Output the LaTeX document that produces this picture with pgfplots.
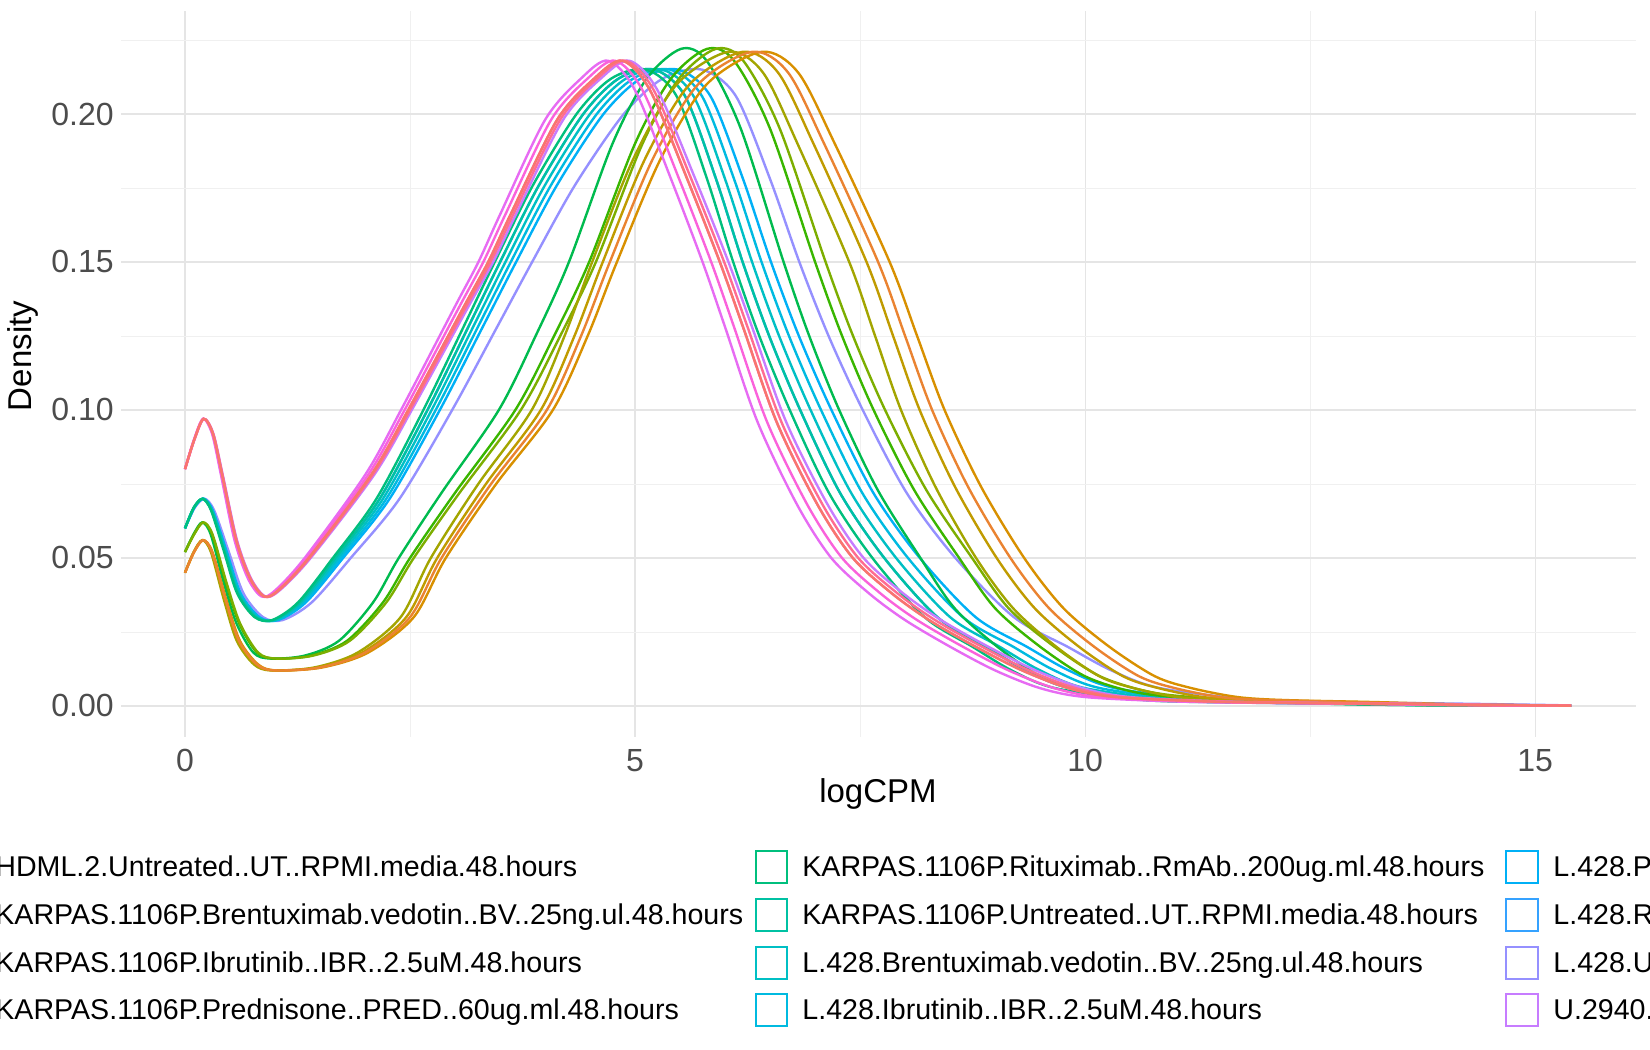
\documentclass[border=0pt]{standalone}
\usepackage{pgfplots}
\pgfplotsset{compat=1.18}
\usepackage{pgfplotstable}
\usepackage{fontspec}
\setmainfont{Liberation Sans}
\pgfplotstableread{
x y
0 0.080
0.1 0.090
0.2 0.097
0.3 0.092
0.4 0.078
0.55 0.056
0.7 0.043
0.85 0.037
1.0 0.039
1.33 0.050
2.0 0.078
2.4 0.100
3.0 0.135
3.26 0.150
3.5 0.166
4.0 0.198
4.4 0.212
4.7 0.218
5.0 0.208
5.4 0.178
5.75 0.150
6.0 0.128
6.36 0.096
6.8 0.068
7.18 0.050
7.6 0.038
8.0 0.029
8.5 0.020
9.0 0.012
9.5 0.006
10 0.003
11 0.0015
12 0.001
13 0.0007
14 0.0003
15.4 0.0001
}\shapeA
\pgfplotstableread{
x y
0 0.060
0.1 0.067
0.2 0.070
0.3 0.066
0.45 0.052
0.6 0.038
0.8 0.030
1.0 0.029
1.3 0.035
1.7 0.050
2.2 0.070
2.74 0.100
3.2 0.128
3.56 0.150
4.0 0.176
4.5 0.200
4.9 0.212
5.3 0.215
5.65 0.206
6.0 0.178
6.3 0.150
6.6 0.125
6.95 0.100
7.4 0.072
7.9 0.050
8.5 0.030
9.05 0.020
9.5 0.012
10 0.006
11 0.002
12 0.0012
13 0.0008
14 0.0003
15.4 0.0001
}\shapeB
\pgfplotstableread{
x y
0 0.052
0.1 0.058
0.2 0.062
0.3 0.058
0.45 0.042
0.6 0.028
0.8 0.018
1.0 0.016
1.4 0.017
1.8 0.022
2.2 0.035
2.5 0.050
3.0 0.072
3.67 0.100
4.1 0.125
4.49 0.150
5.0 0.190
5.4 0.212
5.8 0.222
6.1 0.218
6.5 0.195
7.0 0.150
7.3 0.125
7.65 0.100
8.1 0.073
8.6 0.050
9.0 0.033
9.5 0.020
10 0.010
10.5 0.005
11 0.003
12 0.0015
13 0.001
14 0.0004
15.4 0.0001
}\shapeC
\pgfplotstableread{
x y
0 0.045
0.1 0.052
0.2 0.056
0.3 0.052
0.45 0.036
0.6 0.022
0.8 0.014
1.0 0.012
1.5 0.013
2.0 0.018
2.5 0.030
2.85 0.050
3.4 0.075
4.02 0.100
4.4 0.125
4.72 0.150
5.2 0.185
5.7 0.210
6.3 0.221
6.7 0.214
7.1 0.190
7.7 0.150
8.0 0.125
8.3 0.100
8.7 0.074
9.17 0.050
9.6 0.033
10.1 0.020
10.6 0.010
11 0.006
11.5 0.003
12 0.002
13 0.0013
14 0.0005
15.4 0.0001
}\shapeD
\definecolor{c1}{HTML}{F8766D}\definecolor{c2}{HTML}{EA8331}
\definecolor{c3}{HTML}{D89000}\definecolor{c4}{HTML}{C09B00}
\definecolor{c5}{HTML}{A3A500}\definecolor{c6}{HTML}{7CAE00}
\definecolor{c7}{HTML}{39B600}\definecolor{c8}{HTML}{00BB4E}
\definecolor{c9}{HTML}{00BF7D}\definecolor{c10}{HTML}{00C1A3}
\definecolor{c11}{HTML}{00BFC4}\definecolor{c12}{HTML}{00BAE0}
\definecolor{c13}{HTML}{00B0F6}\definecolor{c14}{HTML}{35A2FF}
\definecolor{c15}{HTML}{9590FF}\definecolor{c16}{HTML}{C77CFF}
\definecolor{c17}{HTML}{E76BF3}\definecolor{c18}{HTML}{FA62DB}
\definecolor{c19}{HTML}{FF62BC}\definecolor{c20}{HTML}{FF6C91}
\newcommand{\crv}[3]{\addplot[#1, line width=1.2pt, smooth, tension=0.5] table[x expr={min(\thisrow{x}*(1+(#3)/6),15.4)}, y=y] {#2};}
\begin{document}
\begin{tikzpicture}[x=1pt,y=1pt]
\useasboundingbox (0,0) rectangle (825,525);
\begin{axis}[at={(60.5pt,156.5pt)}, anchor=south west, scale only axis,
 width=757.5pt, height=363pt,
 xmin=-0.711, xmax=16.12, ymin=-0.0105, ymax=0.2348,
 axis line style={draw=none}, major tick length=0pt, minor tick length=0pt,
 xtick={0,5,10,15}, ytick={0,0.05,0.1,0.15,0.2},
 minor xtick={2.5,7.5,12.5}, minor ytick={0.025,0.075,0.125,0.175,0.225},
 grid=both, major grid style={color=black!10, line width=0.6pt},
 minor grid style={color=black!6, line width=0.4pt},
 yticklabel style={/pgf/number format/fixed, /pgf/number format/fixed zerofill, /pgf/number format/precision=2, inner sep=0pt, xshift=-3.5pt},
 xticklabel style={inner sep=0pt, yshift=-6pt},
 /pgf/number format/assume math mode=true,
 tick label style={font=\fontsize{16}{18}\selectfont, color=black!70},
 clip=false]
\crv{c15}{\shapeB}{0.5}
\crv{c14}{\shapeB}{-0.1}
\crv{c13}{\shapeB}{0.2}
\crv{c12}{\shapeB}{0.1}
\crv{c11}{\shapeB}{0}
\crv{c10}{\shapeB}{-0.1}
\crv{c9}{\shapeB}{-0.2}
\crv{c8}{\shapeC}{-0.3}
\crv{c7}{\shapeC}{0}
\crv{c6}{\shapeC}{0.1}
\crv{c5}{\shapeD}{-0.25}
\crv{c4}{\shapeD}{-0.1}
\crv{c3}{\shapeD}{0.1}
\crv{c2}{\shapeD}{0}
\crv{c16}{\shapeA}{0.3}
\crv{c17}{\shapeA}{0}
\crv{c18}{\shapeA}{0.1}
\crv{c19}{\shapeA}{0.2}
\crv{c20}{\shapeA}{0.25}
\crv{c1}{\shapeA}{0.2}
\end{axis}
\node[rotate=90, font=\fontsize{16.5}{18}\selectfont] at (11.5,347) {Density};
\node[font=\fontsize{16.5}{18}\selectfont] at (439,128) {logCPM};
\begin{scope}[font=\fontsize{14.3}{16}\selectfont]
\foreach \y/\t in {91.5/HDML.2.Untreated..UT..RPMI.media.48.hours, 67.5/KARPAS.1106P.Brentuximab.vedotin..BV..25ng.ul.48.hours, 43.5/KARPAS.1106P.Ibrutinib..IBR..2.5uM.48.hours, 20/KARPAS.1106P.Prednisone..PRED..60ug.ml.48.hours}
 \node[anchor=base west, inner sep=0pt] at (-2.5,\y-5) {\t};
\foreach \y/\c/\t in {91.5/c9/KARPAS.1106P.Rituximab..RmAb..200ug.ml.48.hours, 67.5/c10/KARPAS.1106P.Untreated..UT..RPMI.media.48.hours, 43.5/c11/L.428.Brentuximab.vedotin..BV..25ng.ul.48.hours, 20/c12/L.428.Ibrutinib..IBR..2.5uM.48.hours}
 {\draw[\c, line width=1pt, fill=white] (378,\y-8) rectangle (393.5,\y+8);
 \node[anchor=base west, inner sep=0pt] at (401,\y-5) {\t};}
\foreach \y/\c/\t in {91.5/c13/L.428.Prednisone..PRED..60ug.ml.48.hours, 67.5/c14/L.428.Rituximab..RmAb..200ug.ml.48.hours, 43.5/c15/L.428.Untreated..UT..RPMI.media.48.hours, 20/c16/U.2940.Brentuximab.vedotin..BV..25ng.ul.48.hours}
 {\draw[\c, line width=1pt, fill=white] (753,\y-8) rectangle (769,\y+8);
 \node[anchor=base west, inner sep=0pt] at (776.5,\y-5) {\t};}
\end{scope}
\end{tikzpicture}
\end{document}
